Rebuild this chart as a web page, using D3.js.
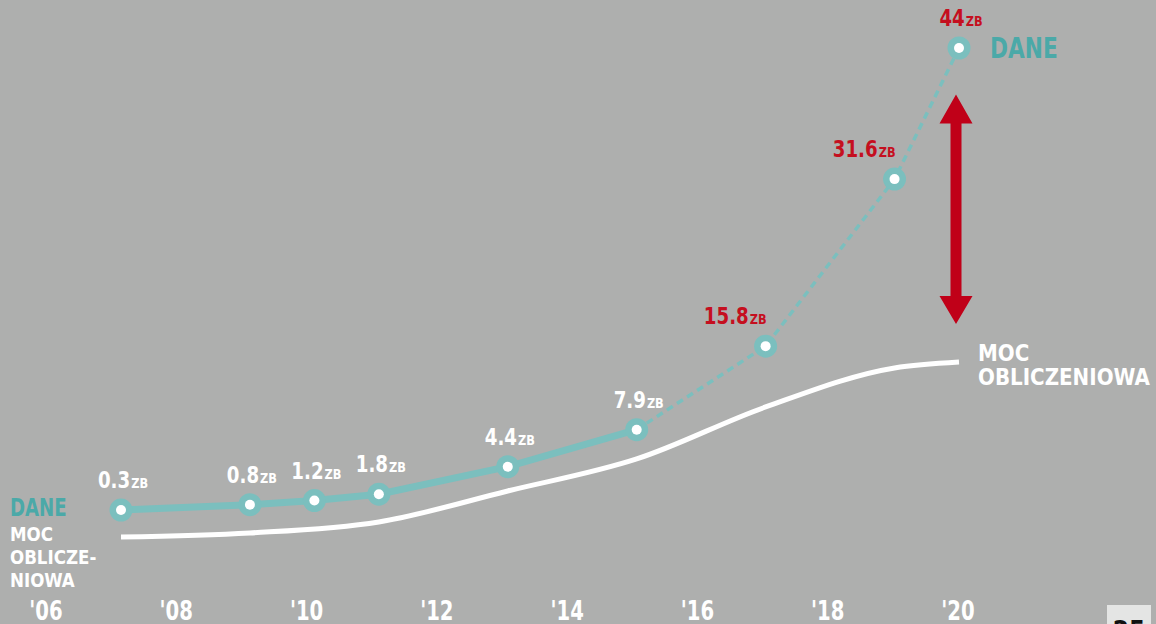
<!DOCTYPE html>
<html><head><meta charset="utf-8">
<script src="https://cdn.jsdelivr.net/npm/d3@7"></script>
<style>
html,body{margin:0;padding:0;background:#aeafae;overflow:hidden}
svg{display:block}
text{font-family:"DejaVu Sans Condensed","DejaVu Sans",sans-serif;font-weight:bold}
</style></head>
<body><svg id="c" width="1156" height="624"></svg>
<script>
// ---- data ----
const years = [2007, 2009, 2010, 2011, 2013, 2015, 2017, 2019, 2020];
const dataZB = [0.3, 0.8, 1.2, 1.8, 4.4, 7.9, 15.8, 31.6, 44];
const projected = [false, false, false, false, false, false, true, true, true];
const powerYears = [2007, 2009, 2011, 2013, 2015, 2017, 2019, 2020];
const powerIndex = [0, 2.3, 8.6, 26.3, 44.6, 74.3, 96.6, 100];
const tickLabels = ["'06", "'08", "'10", "'12", "'14", "'16", "'18", "'20"];

const teal = "#7bbfbe", tealDark = "#4ba9a8", red = "#c50f1f", white = "#ffffff";
const svg = d3.select("#c");

// horizontally condense a text to mimic a condensed typeface; returns new width
function condense(sel, f) {
  let w = 0;
  sel.each(function () {
    const L = this.getComputedTextLength();
    w = L * f;
    d3.select(this).attr("textLength", w).attr("lengthAdjust", "spacingAndGlyphs");
  });
  return w;
}

const x = d3.scaleLinear().domain([2007, 2020]).range([121, 959]);
const y = d3.scaleLinear().domain([0, 44]).range([513.2, 48]);
const yP = d3.scaleLinear().domain([0, 100]).range([537, 362]);
const xTick = d3.scalePoint().domain(tickLabels).range([46, 958]);

// computing power line
svg.append("path")
  .datum(powerYears.map((yr, i) => [yr, powerIndex[i]]))
  .attr("fill", "none").attr("stroke", white).attr("stroke-width", 5)
  .attr("d", d3.line().x(d => x(d[0])).y(d => yP(d[1])).curve(d3.curveMonotoneX));

const pts = years.map((yr, i) => ({yr, v: dataZB[i], proj: projected[i]}));
const solid = pts.filter(p => !p.proj);
const dashed = pts.filter((p, i) => p.proj || (i < pts.length - 1 && pts[i + 1].proj));
const line = d3.line().x(d => x(d.yr)).y(d => y(d.v));

svg.append("path").datum(dashed).attr("fill", "none").attr("stroke", teal)
  .attr("stroke-width", 3.5).attr("stroke-dasharray", "7,5").attr("d", line);
svg.append("path").datum(solid).attr("fill", "none").attr("stroke", teal)
  .attr("stroke-width", 7).attr("d", line);

const g = svg.selectAll("g.pt").data(pts).join("g").attr("class", "pt")
  .attr("transform", d => `translate(${x(d.yr)},${y(d.v)})`);
g.append("circle").attr("r", 11.5).attr("fill", teal);
g.append("circle").attr("r", 5).attr("fill", white);

// value labels: number + small "ZB", two separate texts
const last = pts.length - 1;
g.each(function (d, i) {
  const lg = d3.select(this).append("g");
  const col = d.proj ? red : white;
  const num = lg.append("text").attr("x", 0).attr("y", -22).attr("fill", col)
    .attr("font-size", 23).text(String(d.v));
  const w1 = condense(num, 0.88);
  const zb = lg.append("text").attr("x", w1 + 1).attr("y", -22).attr("fill", col)
    .attr("font-size", 14).text("ZB");
  const w = w1 + 1 + condense(zb, 0.9);
  const dx = (d.proj && i < last) ? (1 - w) : (2 - w / 2);
  lg.attr("transform", `translate(${dx},0)`);
});

// arrow
const ax = x(2020) - 3;
const aTop = y(39.6), aBot = y(17.9);
const p = d3.path();
p.moveTo(ax, aTop);
p.lineTo(ax + 16.5, aTop + 29); p.lineTo(ax + 5.5, aTop + 29);
p.lineTo(ax + 5.5, aBot - 28); p.lineTo(ax + 16.5, aBot - 28);
p.lineTo(ax, aBot);
p.lineTo(ax - 16.5, aBot - 28); p.lineTo(ax - 5.5, aBot - 28);
p.lineTo(ax - 5.5, aTop + 29); p.lineTo(ax - 16.5, aTop + 29);
p.closePath();
svg.append("path").attr("d", p.toString()).attr("fill", "#c00018");

// right labels
condense(svg.append("text").attr("x", 990).attr("y", 58).attr("fill", tealDark)
  .attr("font-size", 28).text("DANE"), 0.86);
["MOC", "OBLICZENIOWA"].forEach((t, i) =>
  condense(svg.append("text").attr("x", 978).attr("y", 361 + i * 24).attr("fill", white)
    .attr("font-size", 23).text(t), 0.96));

// left legend
condense(svg.append("text").attr("x", 10).attr("y", 516).attr("fill", tealDark)
  .attr("font-size", 24).text("DANE"), 0.84);
["MOC", "OBLICZE-", "NIOWA"].forEach((t, i) =>
  condense(svg.append("text").attr("x", 10).attr("y", 541 + i * 23).attr("fill", white)
    .attr("font-size", 19.5).text(t), 0.95));

// x axis labels
condense(svg.append("g").selectAll("text").data(tickLabels).join("text")
  .attr("x", d => xTick(d)).attr("y", 620).attr("text-anchor", "middle")
  .attr("fill", white).attr("font-size", 26).text(d => d), 0.84);

// page number
svg.append("rect").attr("x", 1107).attr("y", 605).attr("width", 44).attr("height", 30).attr("fill", "#e4e5e4");
svg.append("text").attr("x", 1129).attr("y", 640).attr("text-anchor", "middle")
  .attr("fill", "#111").attr("font-size", 26).text("25");
</script></body></html>
